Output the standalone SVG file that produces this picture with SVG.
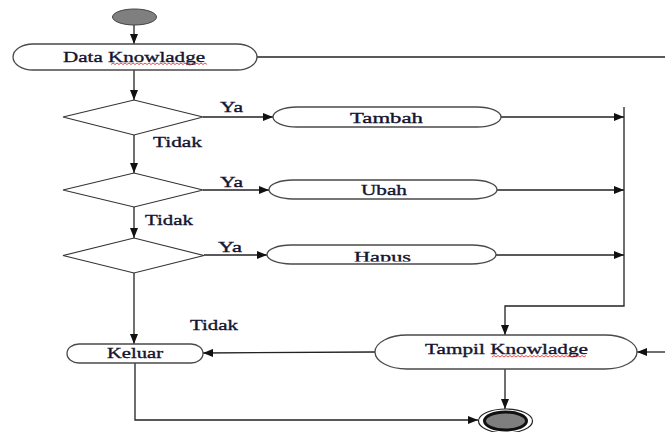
<svg xmlns="http://www.w3.org/2000/svg" width="665" height="432" viewBox="0 0 665 432">
<defs>
<style>
.node{fill:#fff;stroke:#4a4a4a;stroke-width:1.3}
.dia{fill:#fff;stroke:#333;stroke-width:1.2}
.lbl{font-family:"Liberation Serif","Times New Roman",serif;fill:#151530;stroke:#151530;stroke-width:0.35;font-size:15px}
.edge{fill:none;stroke:#222;stroke-width:1.3}
.sq{fill:none;stroke:#e02020;stroke-width:0.8}
</style>
<marker id="arr" viewBox="0 0 10 8" refX="10" refY="4" markerWidth="11" markerHeight="8" markerUnits="userSpaceOnUse" orient="auto">
<path d="M0,0 L10,4 L0,8 Z" fill="#111"/>
</marker>
<clipPath id="hclip"><rect x="267" y="245" width="229" height="16.5"/></clipPath>
</defs>
<rect width="665" height="432" fill="#fff"/>

<g id="connectors">
<line class="edge" x1="134" y1="25" x2="134" y2="44" marker-end="url(#arr)"/>
<line class="edge" x1="257" y1="57" x2="665" y2="57" stroke="#555"/>
<line class="edge" x1="134" y1="70" x2="134" y2="100" marker-end="url(#arr)"/>
<line class="edge" x1="203" y1="117" x2="273" y2="117" marker-end="url(#arr)"/>
<line class="edge" x1="501" y1="117" x2="624" y2="117" marker-end="url(#arr)"/>
<line class="edge" x1="134" y1="135" x2="134" y2="173" marker-end="url(#arr)"/>
<line class="edge" x1="203" y1="190" x2="269" y2="190" marker-end="url(#arr)"/>
<line class="edge" x1="497" y1="190" x2="624" y2="190" marker-end="url(#arr)"/>
<line class="edge" x1="134" y1="207" x2="134" y2="238" marker-end="url(#arr)"/>
<line class="edge" x1="204" y1="255" x2="267" y2="255" marker-end="url(#arr)"/>
<line class="edge" x1="496" y1="255" x2="624" y2="255" marker-end="url(#arr)"/>
<polyline class="edge" points="624,107 624,306 505,306 505,335" marker-end="url(#arr)"/>
<line class="edge" x1="134" y1="273" x2="134" y2="344" marker-end="url(#arr)"/>
<line class="edge" x1="375" y1="352" x2="203" y2="353" marker-end="url(#arr)"/>
<line class="edge" x1="665" y1="352" x2="637" y2="352" marker-end="url(#arr)"/>
<polyline class="edge" points="135,363 135,420 478,420" marker-end="url(#arr)"/>
<line class="edge" x1="505" y1="369" x2="505" y2="409" marker-end="url(#arr)"/>
</g>

<g id="start">
<ellipse cx="134.5" cy="17" rx="22" ry="8" fill="#7f7f7f" stroke="#444" stroke-width="1"/>
</g>

<g id="data-knowladge">
<rect class="node" x="13" y="44" width="244" height="26" rx="20" ry="13"/>
<text class="lbl" x="63" y="62" font-size="16" textLength="142" lengthAdjust="spacingAndGlyphs">Data Knowladge</text>
<path class="sq" d="M111,64.5 l2,-1.5 l2,1.5 l2,-1.5 l2,1.5 l2,-1.5 l2,1.5 l2,-1.5 l2,1.5 l2,-1.5 l2,1.5 l2,-1.5 l2,1.5 l2,-1.5 l2,1.5 l2,-1.5 l2,1.5 l2,-1.5 l2,1.5 l2,-1.5 l2,1.5 l2,-1.5 l2,1.5 l2,-1.5 l2,1.5 l2,-1.5 l2,1.5 l2,-1.5 l2,1.5 l2,-1.5 l2,1.5 l2,-1.5 l2,1.5 l2,-1.5 l2,1.5 l2,-1.5 l2,1.5 l2,-1.5 l2,1.5 l2,-1.5 l2,1.5 l2,-1.5 l2,1.5 l2,-1.5 l2,1.5 l2,-1.5 l2,1.5 l2,-1.5 l2,1.5"/>
</g>

<g id="decision-1">
<polygon class="dia" points="63,117 134,100 203,117 134,135"/>
</g>
<g id="decision-2">
<polygon class="dia" points="63,190 134,173 203,190 134,207"/>
</g>
<g id="decision-3">
<polygon class="dia" points="63,255.5 134,238 204,255.5 134,273"/>
</g>

<g id="tambah">
<rect class="node" x="273" y="107" width="228" height="20" rx="24" ry="10"/>
<text class="lbl" x="350" y="123" textLength="73" lengthAdjust="spacingAndGlyphs">Tambah</text>
</g>
<g id="ubah">
<rect class="node" x="269" y="180" width="228" height="19" rx="24" ry="9.5"/>
<text class="lbl" x="361" y="195" textLength="46" lengthAdjust="spacingAndGlyphs">Ubah</text>
</g>
<g id="hapus">
<rect class="node" x="267" y="245" width="229" height="19" rx="24" ry="9.5"/>
<text class="lbl" x="354" y="262" textLength="57" lengthAdjust="spacingAndGlyphs" clip-path="url(#hclip)">Hapus</text>
</g>

<g id="keluar">
<rect class="node" x="67" y="344" width="136" height="19" rx="12" ry="9.5"/>
<text class="lbl" x="107" y="358" textLength="56" lengthAdjust="spacingAndGlyphs">Keluar</text>
</g>

<g id="tampil-knowladge">
<rect class="node" x="375" y="335" width="262" height="34" rx="32" ry="17"/>
<text class="lbl" x="425" y="354" font-size="16" textLength="163" lengthAdjust="spacingAndGlyphs">Tampil Knowladge</text>
<path class="sq" d="M492,357 l2,-1.5 l2,1.5 l2,-1.5 l2,1.5 l2,-1.5 l2,1.5 l2,-1.5 l2,1.5 l2,-1.5 l2,1.5 l2,-1.5 l2,1.5 l2,-1.5 l2,1.5 l2,-1.5 l2,1.5 l2,-1.5 l2,1.5 l2,-1.5 l2,1.5 l2,-1.5 l2,1.5 l2,-1.5 l2,1.5 l2,-1.5 l2,1.5 l2,-1.5 l2,1.5 l2,-1.5 l2,1.5 l2,-1.5 l2,1.5 l2,-1.5 l2,1.5 l2,-1.5 l2,1.5 l2,-1.5 l2,1.5 l2,-1.5 l2,1.5 l2,-1.5 l2,1.5 l2,-1.5 l2,1.5 l2,-1.5 l2,1.5 l2,-1.5"/>
</g>

<g id="end">
<ellipse cx="505.5" cy="421" rx="27" ry="12" fill="#fff" stroke="#222" stroke-width="1.2"/>
<ellipse cx="505.5" cy="421" rx="21" ry="9" fill="#7f7f7f" stroke="#111" stroke-width="3"/>
</g>

<g id="labels">
<text class="lbl" x="220" y="112" font-size="14" textLength="23" lengthAdjust="spacingAndGlyphs">Ya</text>
<text class="lbl" x="153" y="147" font-size="14" textLength="49" lengthAdjust="spacingAndGlyphs">Tidak</text>
<text class="lbl" x="220" y="187" font-size="14" textLength="23" lengthAdjust="spacingAndGlyphs">Ya</text>
<text class="lbl" x="145" y="225" font-size="14" textLength="48" lengthAdjust="spacingAndGlyphs">Tidak</text>
<text class="lbl" x="218" y="252" font-size="14" textLength="24" lengthAdjust="spacingAndGlyphs">Ya</text>
<text class="lbl" x="190" y="330" font-size="14" textLength="48" lengthAdjust="spacingAndGlyphs">Tidak</text>
</g>
</svg>
